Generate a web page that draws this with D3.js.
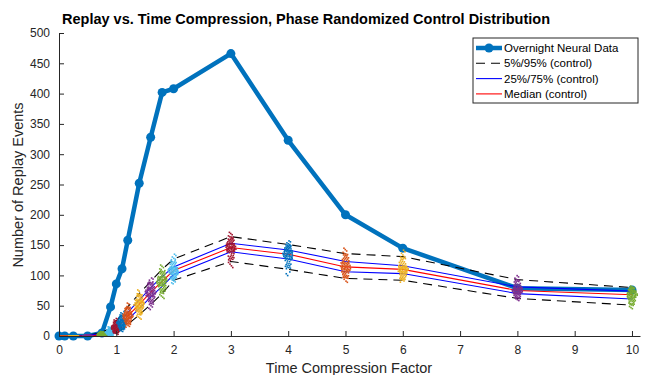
<!DOCTYPE html>
<html>
<head>
<meta charset="utf-8">
<script src="https://cdn.jsdelivr.net/npm/d3@7"></script>
<style>
body { margin: 0; background: #fff; }
text { font-family: "Liberation Sans", Arial, sans-serif; }
</style>
</head>
<body>
<script>
// data
var xVals   = [0, 0.1, 0.25, 0.5, 0.75, 0.9, 1, 1.1, 1.2, 1.4, 1.6, 1.8, 2, 3, 4, 5, 6, 8, 10];
var neural  = [0, 0, 0, 0, 5, 48, 86, 111, 158, 252, 328, 402, 408, 466, 323, 200, 145, 79, 76];
var ctrlP05 = [0, 0, 0, 0, 0, 1, 5, 11, 19, 35, 52, 70, 92, 123, 110, 95, 92, 62, 51];
var ctrlQ25 = [0, 0, 0, 0, 1, 4, 10, 17, 27, 45, 64, 82, 101, 139, 127, 106, 103, 70, 61];
var ctrlMed = [0, 0, 0, 0, 2, 6, 14, 22, 33, 52, 72, 90, 108, 146, 135, 114, 110, 75, 68];
var ctrlQ75 = [0, 0, 0, 1, 4, 9, 18, 27, 39, 59, 80, 98, 114, 153, 142, 123, 116, 81, 74];
var ctrlP95 = [0, 0, 0, 1, 6, 13, 25, 35, 48, 70, 90, 110, 127, 164, 151, 136, 131, 93, 80];
var xTicks = [0, 1, 2, 3, 4, 5, 6, 7, 8, 9, 10];
var yTicks = [0, 50, 100, 150, 200, 250, 300, 350, 400, 450, 500];
var matlabColors = ["#0072BD", "#D95319", "#EDB120", "#7E2F8E", "#77AC30", "#4DBEEE", "#A2142F"];

var width = 651, height = 375;
var svg = d3.select("body").append("svg")
  .attr("width", width)
  .attr("height", height);

var x = d3.scaleLinear().domain([0, 10.14]).range([59, 640]);
var y = d3.scaleLinear().domain([0, 500]).range([336, 33]);

// overnight data (thick blue with markers)
var line = d3.line().x(function(d) { return x(d[0]); }).y(function(d) { return y(d[1]); });
var neuralPts = xVals.map(function(v, i) { return [v, neural[i]]; });
svg.append("path")
  .attr("d", line(neuralPts))
  .attr("fill", "none")
  .attr("stroke", "#0072BD")
  .attr("stroke-width", 4.5)
  .attr("stroke-linejoin", "round");
svg.selectAll("circle.nd")
  .data(neuralPts).enter().append("circle")
  .attr("class", "nd")
  .attr("cx", function(d) { return x(d[0]); })
  .attr("cy", function(d) { return y(d[1]); })
  .attr("r", 4.5)
  .attr("fill", "#0072BD");

// control percentile lines
function ctrlLine(vals, color, dash) {
  svg.append("path")
    .attr("d", line(xVals.map(function(v, i) { return [v, vals[i]]; })))
    .attr("fill", "none")
    .attr("stroke", color)
    .attr("stroke-width", 1.1)
    .attr("stroke-dasharray", dash);
}
ctrlLine(ctrlP05, "#000", "9,6");
ctrlLine(ctrlP95, "#000", "9,6");
ctrlLine(ctrlQ25, "#0000FF", null);
ctrlLine(ctrlQ75, "#0000FF", null);
ctrlLine(ctrlMed, "#FF0000", null);

// control samples: spread evenly over the read percentiles at each x
var nPts = 80;
xVals.forEach(function(xv, i) {
  if (xv === 0) return;
  var lo = ctrlP05[i] - (ctrlQ25[i] - ctrlP05[i]) * 0.8;
  var hi = ctrlP95[i] + (ctrlP95[i] - ctrlQ75[i]) * 0.8;
  var q = d3.scaleLinear()
    .domain([0, 0.05, 0.25, 0.5, 0.75, 0.95, 1])
    .range([Math.max(0, lo), ctrlP05[i], ctrlQ25[i], ctrlMed[i], ctrlQ75[i], ctrlP95[i], hi]);
  var pts = d3.range(nPts).map(function(k) {
    var u = (0.5 + (k + 1) * 0.5698402910 + i * 0.13) % 1;
    var off = ((0.5 + (k + 1) * 0.7548776662 + i * 0.29) % 1) - 0.5;
    u = 0.005 + u * 0.99;
    return [xv + off * 0.2 * (1 - 1.2 * Math.abs(u - 0.5)), q(u)];
  });
  svg.selectAll(null)
    .data(pts).enter().append("rect")
    .attr("x", function(d) { return x(d[0]) - 0.8; })
    .attr("y", function(d) { return y(d[1]) - 0.8; })
    .attr("width", 1.6)
    .attr("height", 1.6)
    .attr("fill", matlabColors[i % 7]);
});

// axes (ticks pointing inward)
var axCol = "#262626";
var xAxis = svg.append("g").attr("transform", "translate(0,336)")
  .call(d3.axisBottom(x).tickValues(xTicks).tickSizeInner(-5).tickSizeOuter(0).tickPadding(9));
var yAxis = svg.append("g").attr("transform", "translate(59,0)")
  .call(d3.axisLeft(y).tickValues(yTicks).tickSizeInner(-5).tickSizeOuter(0).tickPadding(9));
[xAxis, yAxis].forEach(function(g) {
  g.select(".domain").attr("stroke", axCol).attr("stroke-width", 1);
  g.selectAll(".tick line").attr("stroke", axCol);
  g.selectAll(".tick text").attr("fill", axCol).attr("font-size", 12)
    .attr("font-family", "Liberation Sans, Arial, sans-serif");
});

// titles
svg.append("text")
  .attr("x", 306).attr("y", 24)
  .attr("text-anchor", "middle")
  .attr("font-size", 14.5).attr("font-weight", "bold")
  .attr("fill", "#000")
  .text("Replay vs. Time Compression, Phase Randomized Control Distribution");
svg.append("text")
  .attr("x", 349).attr("y", 373)
  .attr("text-anchor", "middle")
  .attr("font-size", 14.5).attr("fill", axCol)
  .text("Time Compression Factor");
svg.append("text")
  .attr("transform", "translate(23,185) rotate(-90)")
  .attr("text-anchor", "middle")
  .attr("font-size", 14.5).attr("fill", axCol)
  .text("Number of Replay Events");

// legend
var legItems = [
  { label: "Overnight Neural Data", color: "#0072BD", w: 4.5, dash: null, marker: true },
  { label: "5%/95% (control)", color: "#000", w: 1.1, dash: "9,6", marker: false },
  { label: "25%/75% (control)", color: "#0000FF", w: 1.1, dash: null, marker: false },
  { label: "Median (control)", color: "#FF0000", w: 1.1, dash: null, marker: false }
];
var leg = svg.append("g").attr("transform", "translate(473,38)");
leg.append("rect")
  .attr("width", 165).attr("height", 65)
  .attr("fill", "#fff").attr("stroke", "#262626").attr("stroke-width", 1);
var rows = leg.selectAll("g.row").data(legItems).enter().append("g")
  .attr("transform", function(d, i) { return "translate(0," + (10 + i * 15.3) + ")"; });
rows.append("line")
  .attr("x1", 3).attr("x2", 29).attr("y1", 0).attr("y2", 0)
  .attr("stroke", function(d) { return d.color; })
  .attr("stroke-width", function(d) { return d.w; })
  .attr("stroke-dasharray", function(d) { return d.dash; });
rows.filter(function(d) { return d.marker; }).append("circle")
  .attr("cx", 16).attr("cy", 0).attr("r", 4.5).attr("fill", "#0072BD");
rows.append("text")
  .attr("x", 31).attr("y", 0).attr("dy", "0.35em")
  .attr("font-size", 11.5).attr("fill", "#000")
  .text(function(d) { return d.label; });
</script>
</body>
</html>
